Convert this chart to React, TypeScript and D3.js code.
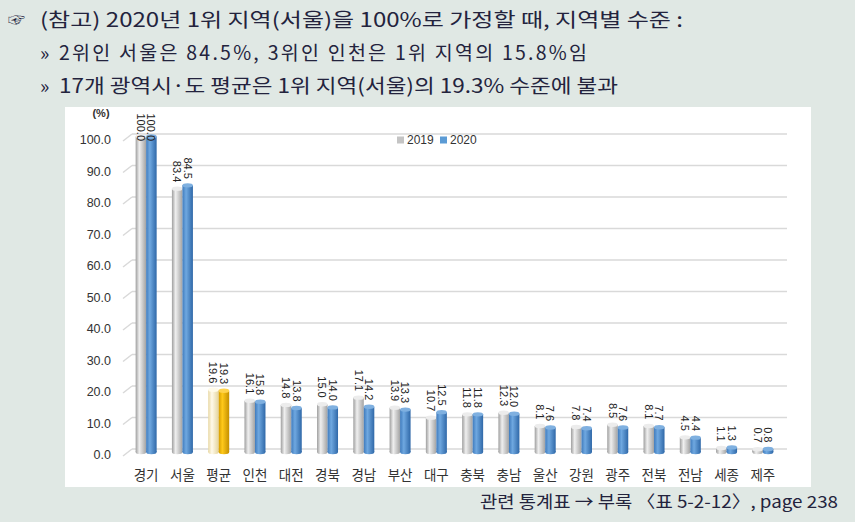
import React from "react";
import * as d3 from "d3";

// 지역별 수준 (1위 지역 = 100)
const regions = ["경기", "서울", "평균", "인천", "대전", "경북", "경남", "부산", "대구", "충북", "충남", "울산", "강원", "광주", "전북", "전남", "세종", "제주"];
const v2019 = [100.0, 83.4, 19.6, 16.1, 14.8, 15.0, 17.1, 13.9, 10.7, 11.8, 12.3, 8.1, 7.8, 8.5, 8.1, 4.5, 1.1, 0.7];
const v2020 = [100.0, 84.5, 19.3, 15.8, 13.8, 14.0, 14.2, 13.3, 12.5, 11.8, 12.0, 7.6, 7.4, 7.6, 7.7, 4.4, 1.3, 0.8];
const yTicks = [0, 10, 20, 30, 40, 50, 60, 70, 80, 90, 100];
const seriesNames = ["2019", "2020"];

const W = 855;
const H = 522;
const KR = "'Noto Sans CJK KR', 'Noto Sans', sans-serif";
const NUM = "'Liberation Sans', Arial, sans-serif";

const App = () => {
  const x = d3.scaleBand<string>().domain(regions).range([128, 781]).paddingInner(0);
  const y = d3.scaleLinear().domain([0, 100]).range([455, 140]);
  const bw = 10.5;
  const barBase = y(0) - 3;

  const grad = (i: number, avg: boolean) =>
    avg ? (i === 0 ? "url(#gCream)" : "url(#gGold)") : i === 0 ? "url(#gGray)" : "url(#gBlue)";
  const capFill = (i: number, avg: boolean) =>
    avg ? (i === 0 ? "#fffbea" : "#ffd34d") : i === 0 ? "#ececec" : "#7fb0e0";

  return (
    <svg width={W} height={H} style={{ position: "absolute", left: 0, top: 0 }}>
      <defs>
        <linearGradient id="gGray" x1="0" x2="1" y1="0" y2="0">
          <stop offset="0%" stopColor="#9e9e9e" />
          <stop offset="35%" stopColor="#efefef" />
          <stop offset="100%" stopColor="#a3a3a3" />
        </linearGradient>
        <linearGradient id="gBlue" x1="0" x2="1" y1="0" y2="0">
          <stop offset="0%" stopColor="#3f7bbd" />
          <stop offset="35%" stopColor="#6fa8e0" />
          <stop offset="100%" stopColor="#2f68a8" />
        </linearGradient>
        <linearGradient id="gCream" x1="0" x2="1" y1="0" y2="0">
          <stop offset="0%" stopColor="#e8d8a4" />
          <stop offset="35%" stopColor="#fffaea" />
          <stop offset="100%" stopColor="#e3d39c" />
        </linearGradient>
        <linearGradient id="gGold" x1="0" x2="1" y1="0" y2="0">
          <stop offset="0%" stopColor="#d69e00" />
          <stop offset="35%" stopColor="#ffc91a" />
          <stop offset="100%" stopColor="#c48f00" />
        </linearGradient>
      </defs>

      <rect width={W} height={H} fill="#e0e8e4" />

      {/* 헤더 */}
      <g fill="#23233d" fontFamily={KR} fontWeight={400}>
        <text x={8} y={26} fontSize={17}>☞</text>
        <text x={40} y={27} fontSize={19.5} textLength={643} lengthAdjust="spacingAndGlyphs">
          (참고) 2020년 1위 지역(서울)을 100%로 가정할 때, 지역별 수준 :
        </text>
        <text x={40} y={60} fontSize={19.5}>»</text>
        <text x={59} y={60} fontSize={19.5} textLength={528} lengthAdjust="spacing">
          2위인 서울은 84.5%, 3위인 인천은 1위 지역의 15.8%임
        </text>
        <text x={40} y={93} fontSize={19.5}>»</text>
        <text x={59} y={93} fontSize={19.5} textLength={559} lengthAdjust="spacingAndGlyphs">
          17개 광역시·도 평균은 1위 지역(서울)의 19.3% 수준에 불과
        </text>
      </g>

      {/* 차트 영역 */}
      <rect x={65} y={107} width={746} height={380} fill="#ffffff" />

      {/* 눈금선 (3D) */}
      <g stroke="#d9d9d9" strokeWidth={1.5} fill="none">
        {yTicks.map((t) => (
          <g key={t}>
            <line x1={123} y1={y(t) + 1} x2={132} y2={y(t) - 6} />
            <line x1={132} y1={y(t) - 6} x2={787} y2={y(t) - 6} />
          </g>
        ))}
      </g>

      <g fontFamily={NUM} fontSize={12.5} fill="#333" textAnchor="end">
        {yTicks.map((t) => (
          <text key={t} x={111} y={y(t)} dominantBaseline="central">
            {t.toFixed(1)}
          </text>
        ))}
      </g>
      <text x={101} y={117} fontFamily={NUM} fontSize={11} fontWeight="bold" fill="#333" textAnchor="middle">
        (%)
      </text>

      {/* 범례 */}
      <g fontFamily={NUM} fontSize={12} fill="#333">
        {seriesNames.map((s, i) => (
          <g key={s} transform={`translate(${397 + i * 43},140)`}>
            <rect x={0} y={-3.5} width={7} height={7} fill={i === 0 ? "#c4c4c4" : "#5b9bd5"} />
            <text x={10} y={0} dominantBaseline="central">{s}</text>
          </g>
        ))}
      </g>

      {/* 막대 */}
      {regions.map((r, k) => {
        const c = (x(r) as number) + x.bandwidth() / 2;
        const avg = r === "평균";
        return [v2019[k], v2020[k]].map((v, i) => {
          const bx = i === 0 ? c - bw : c;
          const top = y(v) - 3.5;
          return (
            <g key={`${r}-${i}`}>
              <ellipse cx={bx + bw / 2} cy={barBase} rx={bw / 2} ry={2.2} fill={grad(i, avg)} />
              <rect x={bx} y={top} width={bw} height={Math.max(0, barBase - top)} fill={grad(i, avg)} />
              <ellipse cx={bx + bw / 2} cy={top} rx={bw / 2} ry={2.2} fill={capFill(i, avg)} />
            </g>
          );
        });
      })}

      {/* 데이터 레이블 (세로) */}
      <g fontFamily={NUM} fontSize={11} fill="#222" textAnchor="end">
        {regions.map((r, k) => {
          const c = (x(r) as number) + x.bandwidth() / 2;
          return [v2019[k], v2020[k]].map((v, i) => {
            const lx = i === 0 ? c - bw / 2 : c + bw / 2;
            const ly = Math.max(y(v) - 10, y(100) + 1);
            return (
              <text key={`${r}-l${i}`} transform={`translate(${lx},${ly}) rotate(90)`} dominantBaseline="central">
                {v.toFixed(1)}
              </text>
            );
          });
        })}
      </g>

      {/* X축 레이블 */}
      <g fontFamily={KR} fontSize={13.5} fill="#333" textAnchor="middle">
        {regions.map((r) => (
          <text key={r} x={(x(r) as number) + x.bandwidth() / 2} y={474} dominantBaseline="central">
            {r}
          </text>
        ))}
      </g>

      {/* 출처 */}
      <text x={480} y={508} fontFamily={KR} fontSize={17} fill="#23233d" textLength={358} lengthAdjust="spacingAndGlyphs">
        관련 통계표 → 부록 〈표 5-2-12〉, page 238
      </text>
    </svg>
  );
};

export default App;
